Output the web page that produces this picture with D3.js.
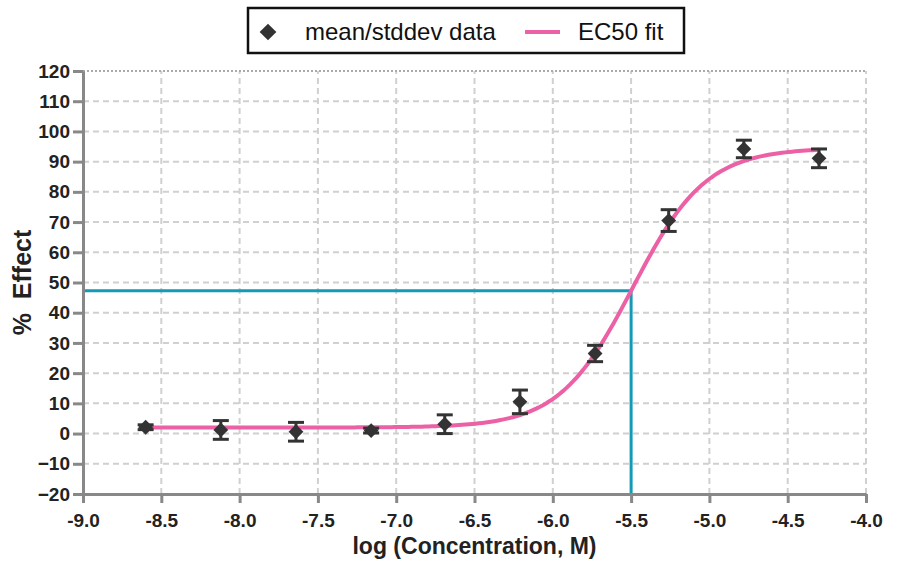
<!DOCTYPE html>
<html>
<head>
<meta charset="utf-8">
<title>EC50</title>
<script src="https://cdn.jsdelivr.net/npm/d3@7"></script>
<style>
  body { margin: 0; background: #fff; }
  svg { font-family: "Liberation Sans", Arial, sans-serif; }
  .tick text { font-size: 19px; font-weight: bold; fill: #222; }
</style>
</head>
<body>
<script>
// data
var logConc = [-8.60, -8.12, -7.64, -7.16, -6.69, -6.21, -5.73, -5.26, -4.78, -4.30];
var meanEffect = [2.1, 1.2, 0.6, 1.0, 3.1, 10.5, 26.5, 70.5, 94.2, 91.1];
var stdEffect = [0.8, 3.1, 3.1, 0.8, 3.1, 3.9, 2.7, 3.6, 2.9, 3.1];
var xTicks = [-9.0, -8.5, -8.0, -7.5, -7.0, -6.5, -6.0, -5.5, -5.0, -4.5, -4.0];
var yTicks = [-20, -10, 0, 10, 20, 30, 40, 50, 60, 70, 80, 90, 100, 110, 120];
// fit parameters (4PL)
var fitBottom = 2.0, fitTop = 94.5, fitLogEC50 = -5.49, fitHill = 1.85;
var ec50Marker = -5.5;

var width = 901, height = 569;
var margin = {left: 83, right: 35, top: 71, bottom: 75};

var svg = d3.select("body").append("svg")
    .attr("width", width)
    .attr("height", height);

var x = d3.scaleLinear().domain([-9, -4]).range([margin.left, width - margin.right]);
var y = d3.scaleLinear().domain([-20, 120]).range([height - margin.bottom, margin.top]);

function fit(v) {
  return fitBottom + (fitTop - fitBottom) / (1 + Math.pow(10, (fitLogEC50 - v) * fitHill));
}

// grid
var grid = svg.append("g");
grid.selectAll(".vg").data(xTicks.slice(1)).enter().append("line")
    .attr("x1", d => x(d)).attr("x2", d => x(d))
    .attr("y1", y(-20)).attr("y2", y(120))
    .attr("stroke", "#d0d0d0").attr("stroke-width", 2)
    .attr("stroke-dasharray", "6,4");
grid.selectAll(".hg").data(yTicks.slice(1, -1)).enter().append("line")
    .attr("x1", x(-9)).attr("x2", x(-4))
    .attr("y1", d => y(d)).attr("y2", d => y(d))
    .attr("stroke", "#d0d0d0").attr("stroke-width", 2)
    .attr("stroke-dasharray", "6,4");
// top border dotted
grid.append("line")
    .attr("x1", x(-9)).attr("x2", x(-4))
    .attr("y1", y(120)).attr("y2", y(120))
    .attr("stroke", "#aaa").attr("stroke-width", 2)
    .attr("stroke-dasharray", "2,2");

// EC50 drop lines
var ec50Y = fit(ec50Marker);
svg.append("path")
    .attr("d", d3.line()([[x(-9), y(ec50Y)], [x(ec50Marker), y(ec50Y)], [x(ec50Marker), y(-20)]]))
    .attr("fill", "none")
    .attr("stroke", "#1499b6")
    .attr("stroke-width", 3);

// axes
var xAxis = d3.axisBottom(x).tickValues(xTicks).tickFormat(d3.format(".1f")).tickSizeInner(9).tickSizeOuter(0).tickPadding(11);
var yAxis = d3.axisLeft(y).tickValues(yTicks).tickSizeInner(10).tickSizeOuter(0).tickPadding(3);

var gx = svg.append("g").attr("transform", "translate(0," + y(-20) + ")").call(xAxis);
var gy = svg.append("g").attr("transform", "translate(" + x(-9) + ",0)").call(yAxis);
[gx, gy].forEach(function(g) {
  g.selectAll("path").attr("stroke", "#888").attr("stroke-width", 3);
  g.selectAll("line").attr("stroke", "#888").attr("stroke-width", 3);
});
gx.selectAll("text").text(d => d.toFixed(1));

// fit curve
var curvePts = d3.range(0, 201).map(function(i) {
  var v = logConc[0] + (logConc[logConc.length - 1] - logConc[0]) * i / 200;
  return [v, fit(v)];
});
svg.append("path")
    .attr("d", d3.line().x(d => x(d[0])).y(d => y(d[1]))(curvePts))
    .attr("fill", "none")
    .attr("stroke", "#ec61a6")
    .attr("stroke-width", 4);

// error bars
var pts = svg.append("g");
var bars = pts.selectAll(".eb").data(logConc).enter().append("g");
bars.append("line")
    .attr("x1", d => x(d)).attr("x2", d => x(d))
    .attr("y1", (d, i) => y(meanEffect[i] - stdEffect[i]))
    .attr("y2", (d, i) => y(meanEffect[i] + stdEffect[i]))
    .attr("stroke", "#333").attr("stroke-width", 3);
[-1, 1].forEach(function(s) {
  bars.append("line")
      .attr("x1", d => x(d) - 8).attr("x2", d => x(d) + 8)
      .attr("y1", (d, i) => y(meanEffect[i] + s * stdEffect[i]))
      .attr("y2", (d, i) => y(meanEffect[i] + s * stdEffect[i]))
      .attr("stroke", "#333").attr("stroke-width", 3);
});

var diamond = d3.symbol().type(d3.symbolSquare).size(110);
pts.selectAll(".pt").data(logConc).enter().append("path")
    .attr("d", diamond)
    .attr("transform", (d, i) => "translate(" + x(d) + "," + y(meanEffect[i]) + ") rotate(45)")
    .attr("fill", "#333");

// axis titles
svg.append("text")
    .attr("x", (x(-9) + x(-4)) / 2)
    .attr("y", 554)
    .attr("text-anchor", "middle")
    .attr("font-size", "23px")
    .attr("font-weight", "bold")
    .attr("fill", "#222")
    .text("log (Concentration, M)");
svg.append("text")
    .attr("transform", "translate(31," + y(50) + ") rotate(-90)")
    .attr("text-anchor", "middle")
    .attr("font-size", "25px")
    .attr("font-weight", "bold")
    .attr("fill", "#222")
    .attr("xml:space", "preserve")
    .text("%  Effect");

// legend
var leg = svg.append("g");
leg.append("rect")
    .attr("x", 248).attr("y", 8).attr("width", 436).attr("height", 45)
    .attr("fill", "#fff").attr("stroke", "#111").attr("stroke-width", 2.5);
leg.append("path")
    .attr("d", d3.symbol().type(d3.symbolSquare).size(140))
    .attr("transform", "translate(268,32) rotate(45)")
    .attr("fill", "#333");
leg.append("text")
    .attr("x", 305).attr("y", 40)
    .attr("font-size", "24px").attr("fill", "#111")
    .text("mean/stddev data");
leg.append("line")
    .attr("x1", 525).attr("x2", 560).attr("y1", 32).attr("y2", 32)
    .attr("stroke", "#ec61a6").attr("stroke-width", 4);
leg.append("text")
    .attr("x", 578).attr("y", 40)
    .attr("font-size", "24px").attr("fill", "#111")
    .text("EC50 fit");
</script>
</body>
</html>
